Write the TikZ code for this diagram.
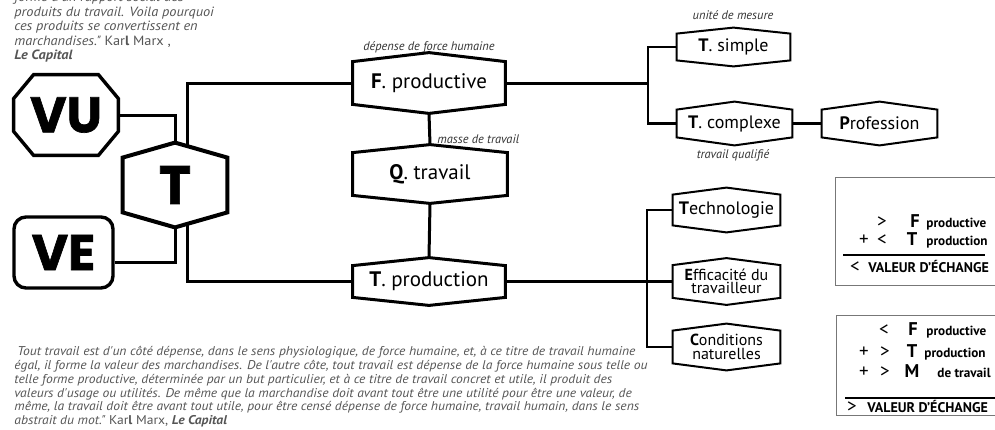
\documentclass[tikz,border=0pt]{standalone}
\usepackage{fontspec}
\setmainfont{PT Sans}
\newfontfamily\heavyfont{Poppins}[BoldFeatures={FakeBold=1.3}]
\newfontfamily\quotefont{PT Sans}[FakeStretch=1.07]
\usetikzlibrary{calc}

\definecolor{quotegray}{HTML}{555555}
\definecolor{labelgray}{HTML}{333333}
\definecolor{framegray}{HTML}{777777}

\newcommand\hexframe[3][]{%
  \draw[hexline,#1] ([yshift=-#3]#2.north west) -- (#2.north) -- ([yshift=-#3]#2.north east)
    -- ([yshift=#3]#2.south east) -- (#2.south) -- ([yshift=#3]#2.south west) -- cycle;}
\newcommand\octframe[3]{%
  \draw[hexline,line width=1.7pt] ([xshift=#2]#1.north west) -- ([xshift=-#2]#1.north east)
    -- ([yshift=-#3]#1.north east) -- ([yshift=#3]#1.south east) -- ([xshift=-#2]#1.south east)
    -- ([xshift=#2]#1.south west) -- ([yshift=#3]#1.south west) -- ([yshift=-#3]#1.north west) -- cycle;}

\tikzset{
  hexline/.style={line width=1.5pt, line join=miter},
  link/.style={line width=1.5pt},
  thinlink/.style={line width=1.2pt},
  bigbox/.style={inner sep=0pt, font=\fontsize{10.5}{12}\selectfont},
  smallbox/.style={inner sep=0pt, font=\fontsize{9}{10}\selectfont},
  duobox/.style={inner sep=0pt, align=center, font=\fontsize{8}{6.8}\selectfont},
  heavy/.style={inner sep=0pt, font=\heavyfont\bfseries\fontsize{25}{25}\selectfont},
  lbl/.style={inner sep=0pt, text=labelgray, font=\fontsize{6.2}{7}\selectfont\itshape},
  quote/.style={inner sep=0pt, align=left, anchor=north west, text=quotegray,
    font=\quotefont\fontsize{6.7}{7.25}\selectfont\itshape},
  sym/.style={inner sep=0pt, anchor=base, font=\fontsize{9.5}{10}\selectfont},
  letter/.style={inner sep=0pt, anchor=base, font=\fontsize{9.2}{10}\selectfont\bfseries},
  word/.style={inner sep=0pt, anchor=base west, font=\fontsize{6.6}{7}\selectfont\bfseries},
  caps/.style={inner sep=0pt, anchor=base west, font=\fontsize{7}{7}\selectfont\bfseries},
  frame/.style={draw=framegray, line width=0.5pt},
  rule/.style={line width=1pt},
}

\begin{document}
\begin{tikzpicture}[x=0.5pt,y=-0.5pt]
\useasboundingbox (0,0) rectangle (995,429);

\node[quote] (qtop) at (14,-8) {forme d'un rapport social des\\
  produits du travail. Voila pourquoi\\
  ces produits se convertissent en\\
  marchandises." {\upshape Kar\textbf{l} Marx ,}\\
  \textbf{Le Capital}};

\node[heavy, minimum width=52pt, minimum height=40pt] (vu) at (66,115) {VU};
\node[heavy, draw, line width=1.7pt, rounded corners=6pt, minimum width=49.5pt, minimum height=35.5pt] (ve) at (63.5,252.5) {VE};
\node[heavy, font=\heavyfont\bfseries\fontsize{27}{27}\selectfont, minimum width=52pt, minimum height=42pt] (tt) at (175,185) {T};

\node[bigbox, minimum width=76pt, minimum height=30pt] (fp) at (429,83) {\textbf{F}. productive};
\node[bigbox, minimum width=77pt, minimum height=29pt] (qt) at (430,174) {\textbf{Q}. travail};
\node[bigbox, minimum width=76pt, minimum height=23.5pt] (tp) at (429,281.5) {\textbf{T}. production};

\node[smallbox, minimum width=56.5pt, minimum height=19pt] (ts) at (733.5,47) {\textbf{T}. simple};
\node[smallbox, minimum width=57.5pt, minimum height=21.5pt] (tc) at (734.5,123.5) {\textbf{T}. complexe};
\node[smallbox, minimum width=57.5pt, minimum height=21.5pt] (pr) at (879.5,123.5) {\textbf{P}rofession};
\node[smallbox, minimum width=53.5pt, minimum height=22pt] (te) at (726.5,210) {\textbf{T}echnologie};
\node[duobox, minimum width=53.5pt, minimum height=23pt] (ef) at (726.5,281.5) {\textbf{E}fficacité du\\travailleur};
\node[duobox, minimum width=53.5pt, minimum height=23pt] (cn) at (726.5,347) {\textbf{C}onditions\\naturelles};

\node[lbl] (ldf) at (429,47) {dépense de force humaine};
\node[lbl, anchor=west] (lmt) at (437,139) {masse de travail};
\node[lbl] (lum) at (733,15) {unité de mesure};
\node[lbl] (ltq) at (733,155) {travail qualifié};

\draw[link] (vu.east) -| (tt.north);
\draw[link] ([yshift=-5pt]ve.east) -| (tt.south);
\draw[link] ([shift={(6pt,-1.7pt)}]tt.north) |- (fp.west);
\draw[link] ([shift={(6pt,1.7pt)}]tt.south) |- (tp.west);
\draw[link] (fp.south) -- (qt.north);
\draw[link] (qt.south) -- (tp.north);

\coordinate (ka) at (648,83);
\draw[link] (fp.east) -- (ka);
\draw[thinlink] (ts.west) -| (ka) |- (tc.west);
\draw[link] (tc.east) -- (pr.west);

\coordinate (kb) at (647,281.5);
\draw[link] (tp.east) -- (kb);
\draw[thinlink] (te.west) -| (kb) |- (cn.west);
\draw[thinlink] (kb) -- (ef.west);

\octframe{vu}{10pt}{12pt}
\hexframe[line width=2pt]{tt}{7.5pt}
\hexframe{fp}{4.5pt}
\hexframe{qt}{4pt}
\hexframe{tp}{4pt}
\hexframe[line width=1pt]{ts}{3pt}
\hexframe[line width=1pt]{tc}{4pt}
\hexframe[line width=1pt]{pr}{4pt}
\hexframe[line width=1pt]{te}{3.5pt}
\hexframe[line width=1pt]{ef}{3.5pt}
\hexframe[line width=1pt]{cn}{3.5pt}

\draw[frame] (835,177) rectangle (1000,285);
\node[sym] (ba1) at (882,227) {>};
\node[letter] (ba2) at (915,227) {F};
\node[word] (ba3) at (926,227) {productive};
\node[sym] (bb1) at (864,245) {+};
\node[sym] (bb2) at (882,245) {<};
\node[letter] (bb3) at (912,245) {T};
\node[word] (bb4) at (926,245) {production};
\draw[rule] (843,255) -- (985,255);
\node[sym] (bc1) at (855,272) {<};
\node[caps] (bc2) at (868,272) {VALEUR D'ÉCHANGE};

\draw[frame] (836,315) rectangle (1000,415);
\node[sym] (ca1) at (884,335) {<};
\node[letter] (ca2) at (913,335) {F};
\node[word] (ca3) at (926,335) {productive};
\node[sym] (cb1) at (864,357) {+};
\node[sym] (cb2) at (885,357) {>};
\node[letter] (cb3) at (912,357) {T};
\node[word] (cb4) at (924,357) {production};
\node[sym] (cc1) at (864,377) {+};
\node[sym] (cc2) at (885,377) {>};
\node[letter] (cc3) at (912,377) {M};
\node[word] (cc4) at (937,377) {de travail};
\draw[rule] (845,398) -- (1000,398);
\node[sym] (cd1) at (852,412) {>};
\node[caps] (cd2) at (867,412) {VALEUR D'ÉCHANGE};

\node[quote, font=\quotefont\fontsize{6.35}{6.9}\selectfont\itshape] (qbot) at (14,346) {\hspace*{1.5pt}Tout travail est d'un côté dépense, dans le sens physiologique, de force humaine, et, à ce titre de travail humaine\\
  égal, il forme la valeur des marchandises. De l'autre côte, tout travail est dépense de la force humaine sous telle ou\\
  telle forme productive, déterminée par un but particulier, et à ce titre de travail concret et utile, il produit des\\
  valeurs d'usage ou utilités. De même que la marchandise doit avant tout être une utilité pour être une valeur, de\\
  même, la travail doit être avant tout utile, pour être censé dépense de force humaine, travail humain, dans le sens\\
  abstrait du mot." {\upshape Kar\textbf{l} Marx,} \textbf{Le Capital}};
\end{tikzpicture}
\end{document}
